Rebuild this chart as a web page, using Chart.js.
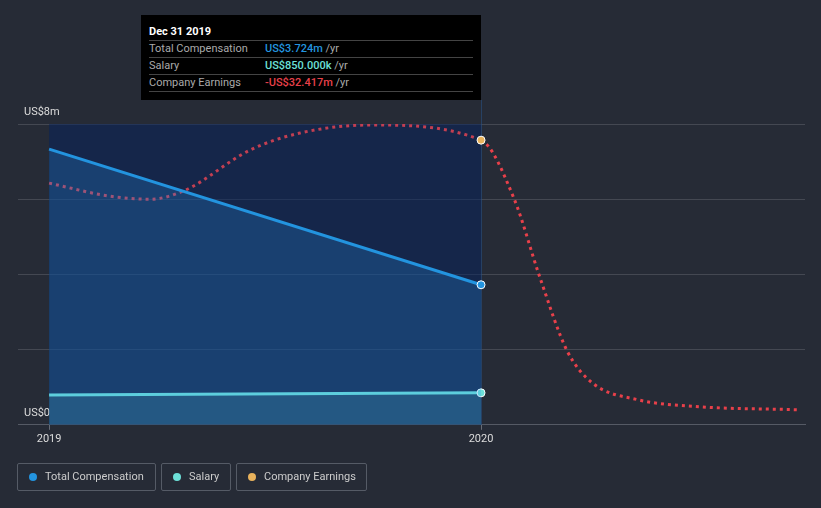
<!DOCTYPE html>
<html>
<head>
<meta charset="utf-8">
<script src="https://cdn.jsdelivr.net/npm/chart.js@4.4.0/dist/chart.umd.min.js"></script>
<style>
    body { margin: 0; background: #262b36; font-family: Roboto, sans-serif; }
    #wrap { position: relative; width: 821px; height: 508px; }
    #chart { position: absolute; left: 0; top: 0; }
    #tip { position: absolute; left: 141px; top: 15px; width: 340px; height: 85px; background: #000; box-sizing: border-box; padding: 9px 8px 0 8px; font-size: 11px; }
    #tip .title { color: #fff; font-weight: bold; height: 16px; line-height: 16px; border-bottom: 1px solid #444; }
    #tip .row { height: 16px; line-height: 16px; border-bottom: 1px solid #444; color: #aaa; }
    #tip .row span.lab { display: inline-block; width: 116px; }
    #tip .row b { font-weight: 500; }
    .legend { position: absolute; top: 463px; height: 28px; box-sizing: border-box; border: 1px solid #555b66; border-radius: 2px; color: #ccc; font-size: 11px; line-height: 26px; padding-left: 27px; }
    .legend i { position: absolute; left: 11px; top: 9px; width: 8px; height: 8px; border-radius: 50%; }
</style>
</head>
<body>
<div id="wrap">
    <canvas id="chart" width="821" height="508"></canvas>
    <div id="tip">
        <div class="title">Dec 31 2019</div>
        <div class="row"><span class="lab">Total Compensation</span><b style="color:#2394df">US$3.724m</b> /yr</div>
        <div class="row"><span class="lab">Salary</span><b style="color:#6de0d8">US$850.000k</b> /yr</div>
        <div class="row"><span class="lab">Company Earnings</span><b style="color:#e8404a">-US$32.417m</b> /yr</div>
    </div>
    <div class="legend" style="left:17px;width:139px"><i style="background:#2394df"></i>Total Compensation</div>
    <div class="legend" style="left:161px;width:70px"><i style="background:#6de0d8"></i>Salary</div>
    <div class="legend" style="left:236px;width:131px"><i style="background:#e8b25c"></i>Company Earnings</div>
</div>
<script>
    // Data (years as decimals, values in US$m)
    const compYears = [2019, 2020];
    const totalComp = [7.33, 3.724];
    const salary = [0.79, 0.85];

    const earnYears = [2019.0, 2019.141, 2019.234, 2019.315, 2019.465, 2019.581, 2019.743, 2020.0,
        2020.076, 2020.137, 2020.199, 2020.257, 2020.363, 2020.507, 2020.734];
    const earnings = [-38.85, -40.8, -41.25, -39.9, -33.9, -31.35, -30.15, -32.417,
        -41.1, -53.1, -63.9, -68.7, -71.25, -72.3, -72.75];

    const yTicks = { 0: 'US$0', 8: 'US$8m' };
    const xTicks = [2019, 2020];
    const highlightFrom = 2019;
    const highlightTo = 2020;

    function pts(xs, ys) {
        return xs.map((x, i) => ({ x: x, y: ys[i] }));
    }

    // Highlighted period + marker line
    const highlight = {
        id: 'highlight',
        beforeDatasetsDraw(chart) {
            const { ctx, chartArea, scales } = chart;
            const x0 = scales.x.getPixelForValue(highlightFrom);
            const x1 = scales.x.getPixelForValue(highlightTo);
            ctx.save();
            ctx.fillStyle = 'rgba(4, 33, 94, 0.5)';
            ctx.fillRect(x0, chartArea.top, x1 - x0, chartArea.bottom - chartArea.top);
            ctx.strokeStyle = 'rgba(40, 80, 130, 0.6)';
            ctx.lineWidth = 1;
            ctx.beginPath();
            ctx.moveTo(Math.round(x1) + 0.5, 100);
            ctx.lineTo(Math.round(x1) + 0.5, chartArea.bottom);
            ctx.stroke();
            ctx.restore();
        }
    };

    const ctx = document.getElementById('chart').getContext('2d');
    const chart = new Chart(ctx, {
        type: 'line',
        data: {
            datasets: [{
                label: 'Total Compensation',
                data: pts(compYears, totalComp),
                borderColor: '#2394df',
                backgroundColor: 'rgba(40, 150, 240, 0.24)',
                borderWidth: 3,
                fill: 'origin',
                pointRadius: ctx => ctx.raw && ctx.raw.x === 2020 ? 4 : 0,
                pointBackgroundColor: '#2394df',
                pointBorderColor: '#fff',
                pointBorderWidth: 1,
                yAxisID: 'y'
            }, {
                label: 'Salary',
                data: pts(compYears, salary),
                borderColor: '#6de0d8',
                backgroundColor: 'rgba(109, 224, 216, 0.17)',
                borderWidth: 3,
                fill: 'origin',
                pointRadius: ctx => ctx.raw && ctx.raw.x === 2020 ? 4 : 0,
                pointBackgroundColor: '#6de0d8',
                pointBorderColor: '#fff',
                pointBorderWidth: 1,
                yAxisID: 'y'
            }, {
                label: 'Company Earnings',
                data: pts(earnYears, earnings),
                borderColor: '#e8404a',
                borderWidth: 3,
                borderDash: [3, 4],
                cubicInterpolationMode: 'monotone',
                fill: false,
                segment: {
                    borderColor: c => c.p1.parsed.x <= 2020 ? '#c23f52' : '#e8404a'
                },
                pointRadius: ctx => ctx.raw && ctx.raw.x === 2020 ? 4 : 0,
                pointBackgroundColor: '#e8b25c',
                pointBorderColor: '#fff',
                pointBorderWidth: 1,
                yAxisID: 'y2'
            }]
        },
        options: {
            responsive: false,
            animation: false,
            layout: { padding: { top: 124, left: 6, right: 16, bottom: 59 } },
            scales: {
                x: {
                    type: 'linear',
                    min: 2018.928,
                    max: 2020.75,
                    afterBuildTicks: axis => { axis.ticks = xTicks.map(v => ({ value: v })); },
                    grid: { drawOnChartArea: false, drawTicks: true, tickLength: 5, color: '#666b75' },
                    border: { color: '#555a65' },
                    ticks: {
                        color: '#ddd',
                        font: { family: 'Roboto', size: 11 },
                        padding: 3,
                        maxRotation: 0,
                        callback: v => String(v)
                    }
                },
                y: {
                    min: 0,
                    max: 8,
                    grid: { color: 'rgba(255,255,255,0.14)', drawTicks: false },
                    border: { display: false },
                    ticks: {
                        stepSize: 2,
                        mirror: true,
                        padding: 6,
                        labelOffset: -12,
                        color: '#ddd',
                        font: { family: 'Roboto', size: 11 },
                        callback: v => yTicks[v] || ''
                    }
                },
                y2: {
                    display: false,
                    min: -75,
                    max: -30
                }
            },
            plugins: {
                legend: { display: false },
                tooltip: { enabled: false }
            }
        },
        plugins: [highlight]
    });
</script>
</body>
</html>
